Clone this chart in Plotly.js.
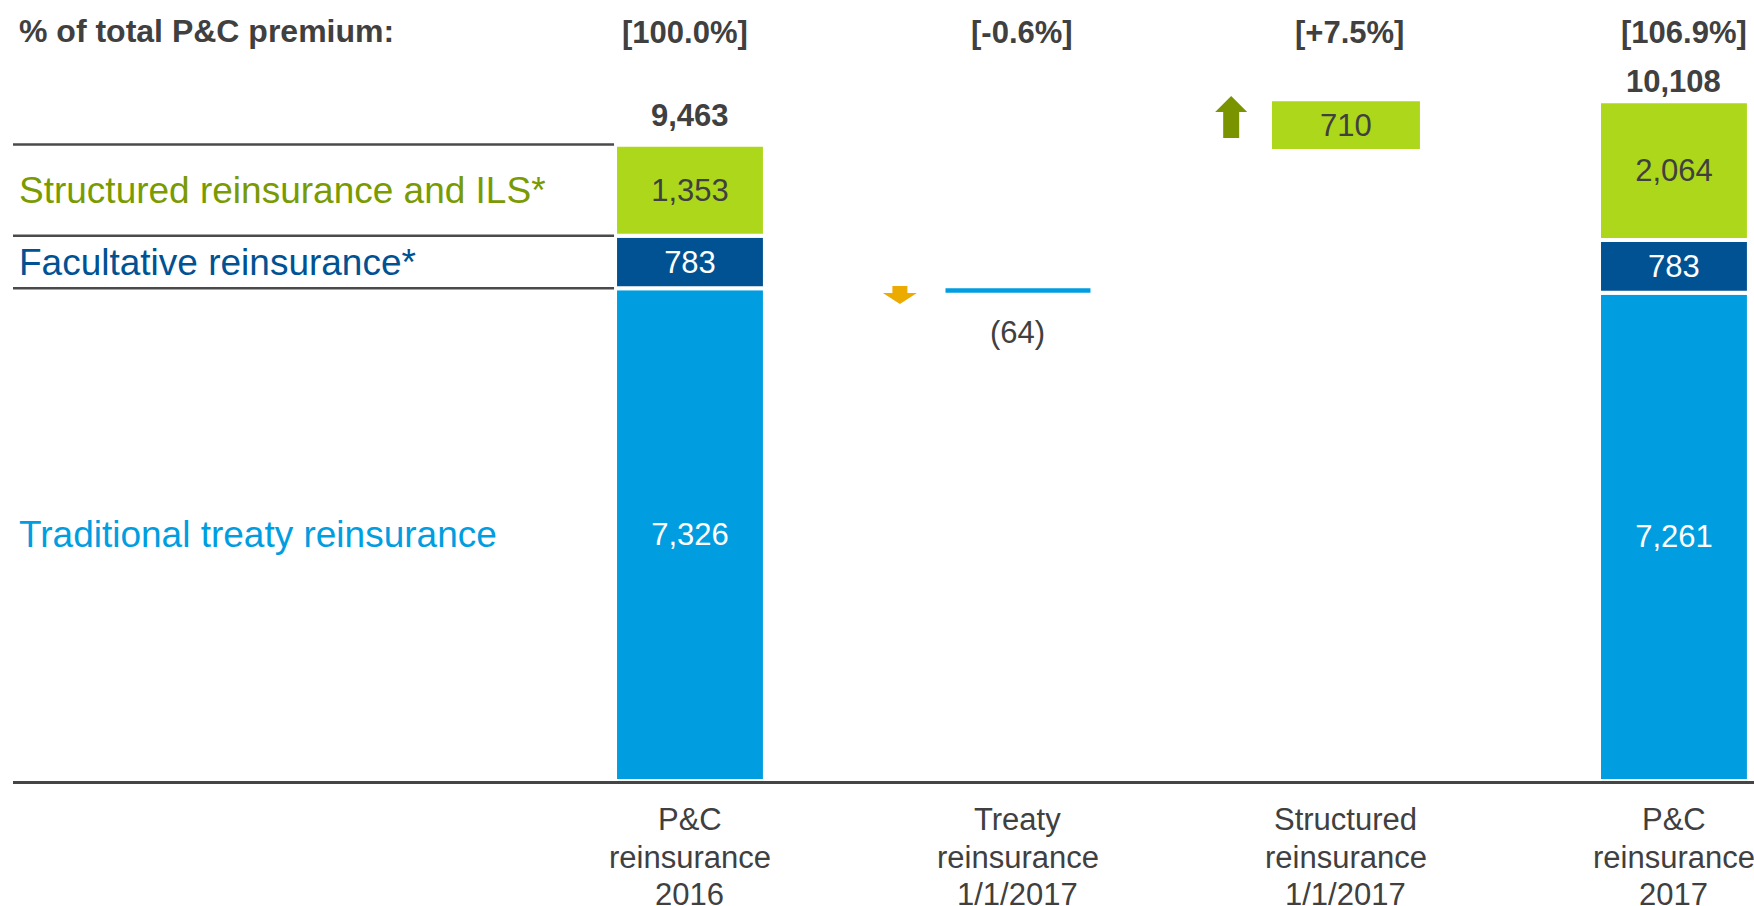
<!DOCTYPE html>
<html>
<head>
<meta charset="utf-8">
<script src="https://cdn.plot.ly/plotly-3.0.1.min.js"></script>
<style>
  html, body { margin: 0; padding: 0; background: #ffffff; }
  #chart { width: 1754px; height: 906px; }
</style>
</head>
<body>
<div id="chart"></div>
<script>
// ---------------- data ----------------
const categories = [
  'P&C<br>reinsurance<br>2016',
  'Treaty<br>reinsurance<br>1/1/2017',
  'Structured<br>reinsurance<br>1/1/2017',
  'P&C<br>reinsurance<br>2017'
];
const shareLabels = ['[100.0%]', '[-0.6%]', '[+7.5%]', '[106.9%]'];
const headerLabel = '% of total P&C premium:';
const segmentNames = ['Traditional treaty reinsurance', 'Facultative reinsurance*', 'Structured reinsurance and ILS*'];
const traditional = [7326, null, null, 7261];
const facultative = [783, null, null, 783];
const structured = [1353, null, null, 2064];
const totals = [9463, null, null, 10108];
const treatyChange = -64;
const structuredChange = 710;

// ---------------- styling ----------------
const FONT = '"Liberation Sans", Arial, sans-serif';
const TXT = '#404040';
const C_LIGHT = '#009EE0';
const C_DARK = '#005293';
const C_GREEN = '#ADD71A';
const C_OLIVE_TXT = '#7A9A01';
const C_ARROW_G = '#7A9400';
const C_ARROW_O = '#EBAB00';
const LINE = '#4a4a4a';

const ZERO_PX = 781;          // pixel row of value 0 (plot bottom)
const SCALE = 0.06725;        // px per unit

const fmt = v => v.toLocaleString('en-US');
const idx = categories.map((_, i) => i);
const stackCols = idx.filter(i => traditional[i] !== null);
const barW = 0.457;

const facBase = stackCols.map(i => traditional[i]);
const strBase = stackCols.map(i => traditional[i] + facultative[i]);

const insideText = (color) => ({
  textposition: 'inside', insidetextanchor: 'middle', textangle: 0, constraintext: 'none',
  textfont: { family: FONT, size: 31, color: color }
});

const traces = [
  Object.assign({
    type: 'bar', x: stackCols, y: stackCols.map(i => traditional[i]), base: stackCols.map(() => 0),
    width: barW, marker: { color: C_LIGHT, line: { color: '#ffffff', width: 4 } },
    text: stackCols.map(i => fmt(traditional[i])), hoverinfo: 'skip', name: segmentNames[0]
  }, insideText('#ffffff')),
  Object.assign({
    type: 'bar', x: stackCols, y: stackCols.map(i => facultative[i]), base: facBase,
    width: barW, marker: { color: C_DARK, line: { color: '#ffffff', width: 4 } },
    text: stackCols.map(i => fmt(facultative[i])), hoverinfo: 'skip', name: segmentNames[1]
  }, insideText('#ffffff')),
  Object.assign({
    type: 'bar', x: stackCols, y: stackCols.map(i => structured[i]), base: strBase,
    width: barW, marker: { color: C_GREEN, line: { color: '#ffffff', width: 4 } },
    text: stackCols.map(i => fmt(structured[i])), hoverinfo: 'skip', name: segmentNames[2]
  }, insideText(TXT)),
  {
    type: 'bar', x: [1], y: [treatyChange], base: [traditional[0]],
    width: 0.442, marker: { color: C_LIGHT, line: { width: 0 } },
    hoverinfo: 'skip', name: 'Treaty change'
  },
  Object.assign({
    type: 'bar', x: [2], y: [structuredChange], base: [totals[0] + treatyChange],
    width: 0.451, marker: { color: C_GREEN, line: { width: 0 } },
    text: [fmt(structuredChange)], hoverinfo: 'skip', name: 'Structured change'
  }, insideText(TXT))
];

// ---------------- annotations ----------------
const py = px => (ZERO_PX - px) / ZERO_PX;   // pixel row -> paper y
const annotations = [];

annotations.push({
  xref: 'paper', yref: 'paper', x: 4 / 1741, y: py(31), xanchor: 'left', yanchor: 'middle',
  text: '<b>' + headerLabel + '</b>', showarrow: false, font: { family: FONT, size: 32, color: TXT }
});
const shareDx = [-5, 4, 4, 10];
shareLabels.forEach((s, i) => annotations.push({
  xref: 'x', yref: 'paper', x: i, y: py(32), xanchor: 'center', yanchor: 'middle', xshift: shareDx[i],
  text: '<b>' + s + '</b>', showarrow: false, font: { family: FONT, size: 31, color: TXT }
}));
const totalShift = { 0: 28.7, 3: 20.2 };
stackCols.forEach(i => annotations.push({
  xref: 'x', yref: 'y', x: i, y: totals[i], xanchor: 'center', yanchor: 'middle', yshift: totalShift[i],
  text: '<b>' + fmt(totals[i]) + '</b>', showarrow: false, font: { family: FONT, size: 31, color: TXT }
}));
annotations.push({
  xref: 'x', yref: 'y', x: 1, y: traditional[0] + treatyChange, xanchor: 'center', yanchor: 'middle', yshift: -39.4,
  text: '(' + fmt(Math.abs(treatyChange)) + ')', showarrow: false, font: { family: FONT, size: 31, color: TXT }
});
// left legend-like labels at segment midpoints of first column
const segMid = [
  traditional[0] / 2,
  traditional[0] + facultative[0] / 2,
  traditional[0] + facultative[0] + structured[0] / 2
];
const segColors = [C_LIGHT, C_DARK, C_OLIVE_TXT];
segmentNames.forEach((n, k) => annotations.push({
  xref: 'paper', yref: 'y', x: 4 / 1741, y: segMid[k], xanchor: 'left', yanchor: 'middle',
  text: n, showarrow: false, font: { family: FONT, size: 37, color: segColors[k] }
}));
// category labels below the axis, one line at a time for tighter line spacing
const catLineY = [819, 857, 895];
categories.forEach((c, i) => {
  c.split('<br>').forEach((line, j) => annotations.push({
    xref: 'x', yref: 'paper', x: i, y: py(catLineY[j]), xanchor: 'center', yanchor: 'middle',
    text: line, showarrow: false, font: { family: FONT, size: 31, color: TXT }
  }));
});

// ---------------- shapes ----------------
const xMin = -2.064, xMax = 3.244;
const sepY = [totals[0], traditional[0] + facultative[0], traditional[0]];
const shapes = sepY.map(v => ({
  type: 'line', xref: 'x', yref: 'y', x0: xMin, x1: -barW / 2 - 0.003, y0: v, y1: v,
  line: { color: LINE, width: 2.5 }
}));
// down arrow (treaty change)
shapes.push({
  type: 'path', xref: 'x', yref: 'y', xsizemode: 'pixel', ysizemode: 'pixel',
  xanchor: 0.64, yanchor: traditional[0],
  path: 'M -7.5 2.3 L 7.5 2.3 L 7.5 -4.7 L 17 -4.7 L 0 -15.7 L -17 -4.7 L -7.5 -4.7 Z',
  fillcolor: C_ARROW_O, line: { width: 0 }
});
// up arrow (structured change)
shapes.push({
  type: 'path', xref: 'x', yref: 'y', xsizemode: 'pixel', ysizemode: 'pixel',
  xanchor: 1.65, yanchor: totals[0] + treatyChange + structuredChange,
  path: 'M 0 5.2 L 16 -10.8 L 8 -10.8 L 8 -36.8 L -8 -36.8 L -8 -10.8 L -16 -10.8 Z',
  fillcolor: C_ARROW_G, line: { width: 0 }
});

const layout = {
  width: 1754, height: 906,
  margin: { l: 13, r: 0, t: 0, b: 906 - ZERO_PX, pad: 0 },
  paper_bgcolor: '#ffffff', plot_bgcolor: '#ffffff',
  barmode: 'overlay', showlegend: false,
  font: { family: FONT, color: TXT },
  xaxis: {
    type: 'linear', range: [xMin, xMax], tickvals: idx, showticklabels: false,
    showgrid: false, zeroline: false, showline: true, linecolor: '#454545', linewidth: 3,
    ticks: '', fixedrange: true
  },
  yaxis: {
    range: [0, ZERO_PX / SCALE], showgrid: false, zeroline: false, showline: false,
    showticklabels: false, ticks: '', fixedrange: true
  },
  annotations: annotations,
  shapes: shapes
};

Plotly.newPlot('chart', traces, layout, { displayModeBar: false, staticPlot: true });
</script>
</body>
</html>
